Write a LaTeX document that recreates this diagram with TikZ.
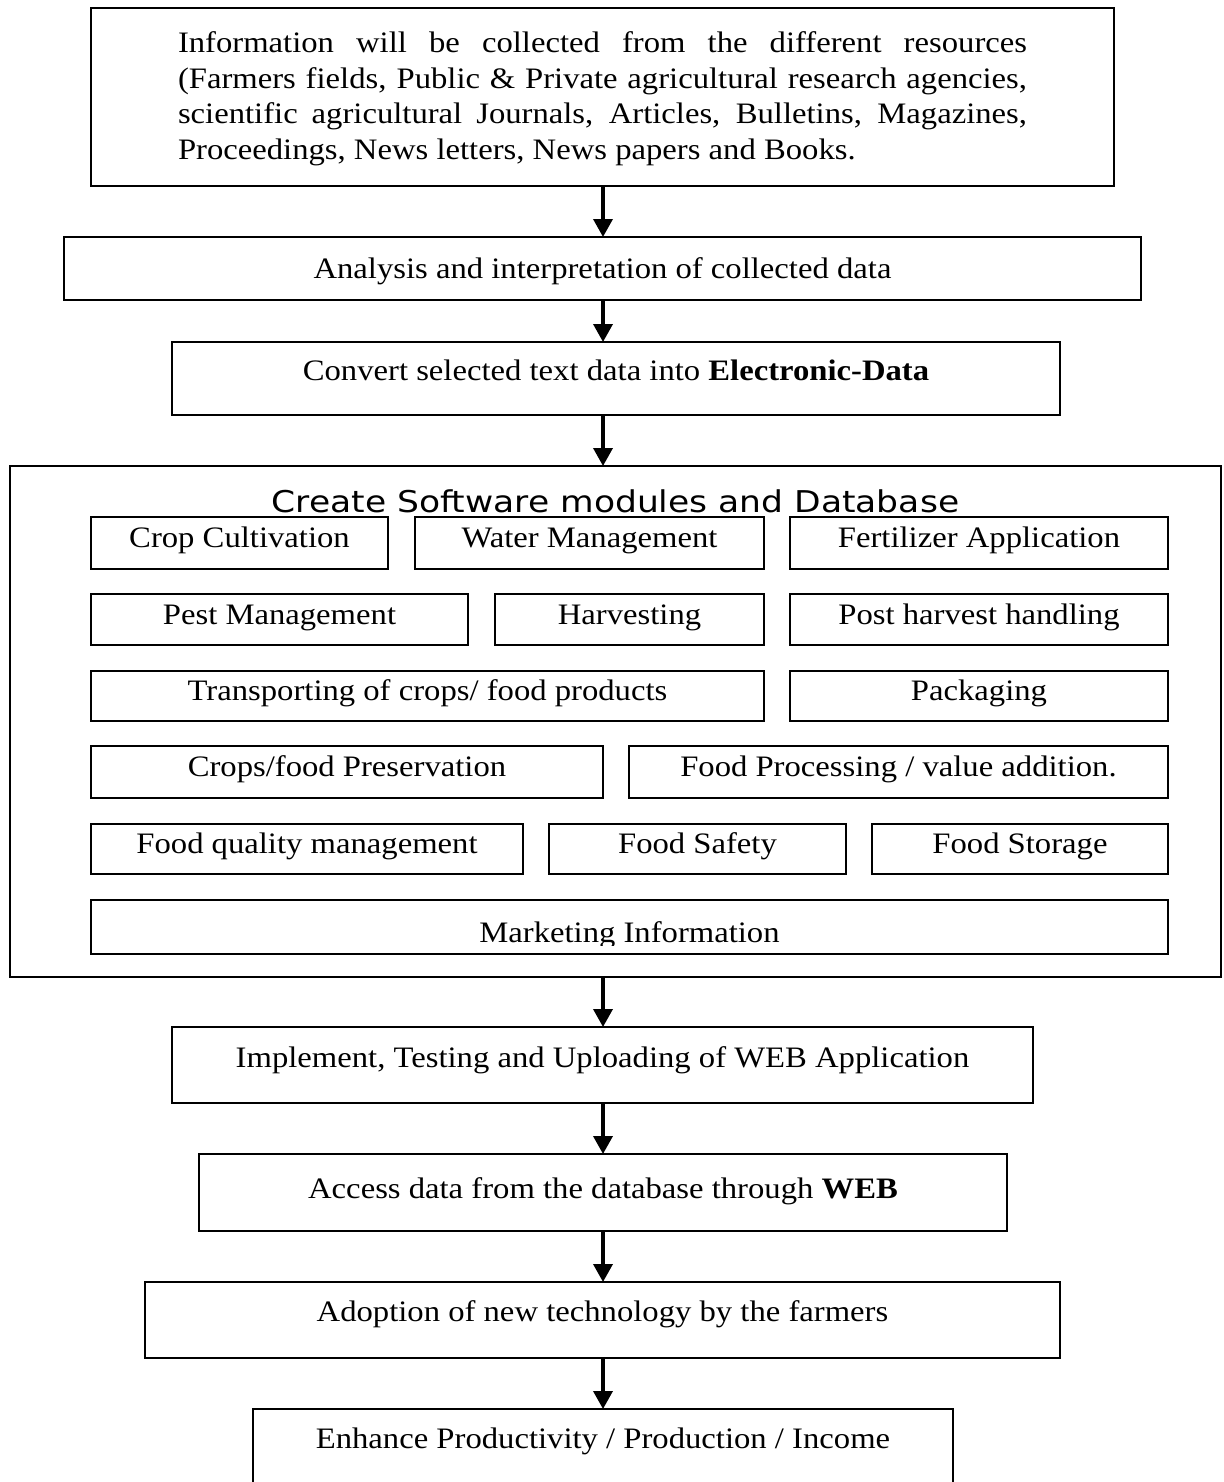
\documentclass[tikz,border=0pt]{standalone}
\usepackage{fontspec}
\setmainfont{Liberation Serif}[FakeStretch=1.1]
\newfontfamily\titlefont{DejaVu Sans}[FakeStretch=1.15]
\usetikzlibrary{arrows.meta}
\newcommand\boxnode[7]{%
  \pgfmathsetmacro\myW{#3-#2}\pgfmathsetmacro\myH{#6-#4}%
  \pgfmathsetmacro\myD{#5-#6}\pgfmathsetmacro\myX{(#2+#3)/2}%
  \node[bx, anchor=base, minimum width=\myW pt, text height=\myH pt, text depth=\myD pt] (#1) at (\myX,#6) {#7};}
\begin{document}
\begin{tikzpicture}[x=1pt,y=-1pt,
  txt/.style={font=\fontsize{29.7}{35.5}\selectfont},
  bx/.style={draw, line width=2pt, inner sep=0pt, outer sep=0pt, txt},
  arr/.style={line width=3.6pt, -{Triangle[width=19pt,length=18pt]}}]
\clip (0,0) rectangle (1223,1482);
\fill[white] (0,0) rectangle (1223,1482);
\coordinate (ax) at (603,0);
% top flow
\boxnode{src}{91}{1114}{8}{186}{53}{\parbox[t]{849pt}{\fontsize{29.7}{35.5}\selectfont
  \makebox[849pt][s]{Information will be collected from the different resources}\\
  \makebox[849pt][s]{(Farmers fields, Public \& Private agricultural research agencies,}\\
  \makebox[849pt][s]{scientific agricultural Journals, Articles, Bulletins, Magazines,}\\
  Proceedings, News letters, News papers and Books.}}
\boxnode{ana}{64}{1141}{237}{300}{278}{Analysis and interpretation of collected data}
\boxnode{conv}{172}{1060}{342}{415}{380}{Convert selected text data into \textbf{Electronic-Data}}
% module container
\node[bx, minimum width=1211pt, minimum height=511pt] (outer) at (615.5,721.5) {};
\node[font=\titlefont\fontsize{30}{36}\selectfont, anchor=base, inner sep=0pt] (title) at (615.5,512) {Create Software modules and Database};
% row 1
\boxnode{m1}{91}{388}{517}{569}{547.5}{Crop Cultivation}
\boxnode{m2}{415}{764}{517}{569}{547.5}{Water Management}
\boxnode{m3}{790}{1168}{517}{569}{547.5}{Fertilizer Application}
% row 2
\boxnode{m4}{91}{468}{594}{645}{624}{Pest Management}
\boxnode{m5}{495}{764}{594}{645}{624}{Harvesting}
\boxnode{m6}{790}{1168}{594}{645}{624}{Post harvest handling}
% row 3
\boxnode{m7}{91}{764}{671}{721}{700.5}{Transporting of crops/ food products}
\boxnode{m8}{790}{1168}{671}{721}{700.5}{Packaging}
% row 4
\boxnode{m9}{91}{603}{746}{797.5}{776.5}{Crops/food Preservation}
\boxnode{m10}{629}{1168}{746}{797.5}{776.5}{Food Processing / value addition.}
% row 5
\boxnode{m11}{91}{523}{823.5}{874}{853}{Food quality management}
\boxnode{m12}{549}{846}{823.5}{874}{853}{Food Safety}
\boxnode{m13}{872}{1168}{823.5}{874}{853}{Food Storage}
% row 6
\boxnode{m14}{91}{1168}{899.6}{954}{942}{}
\begin{scope}
  \clip (91,899.6) rectangle (1168,945.5);
  \node[txt, anchor=base, inner sep=0pt] (m14t) at (629.5,942) {Marketing Information};
\end{scope}
% bottom flow
\boxnode{impl}{172}{1033}{1027}{1103}{1067}{Implement, Testing and Uploading of WEB Application}
\boxnode{acc}{199}{1007}{1154}{1231}{1198}{Access data from the database through \textbf{WEB}}
\boxnode{adopt}{145}{1060}{1282}{1358}{1321}{Adoption of new technology by the farmers}
\boxnode{enh}{253}{953}{1409}{1500}{1448}{Enhance Productivity / Production / Income}
% arrows
\draw[arr] (src.south -| ax) -- (ana.north -| ax);
\draw[arr] (ana.south -| ax) -- (conv.north -| ax);
\draw[arr] (conv.south -| ax) -- (outer.north -| ax);
\draw[arr] (outer.south -| ax) -- (impl.north -| ax);
\draw[arr] (impl.south -| ax) -- (acc.north -| ax);
\draw[arr] (acc.south -| ax) -- (adopt.north -| ax);
\draw[arr] (adopt.south -| ax) -- (enh.north -| ax);
\end{tikzpicture}
\end{document}
